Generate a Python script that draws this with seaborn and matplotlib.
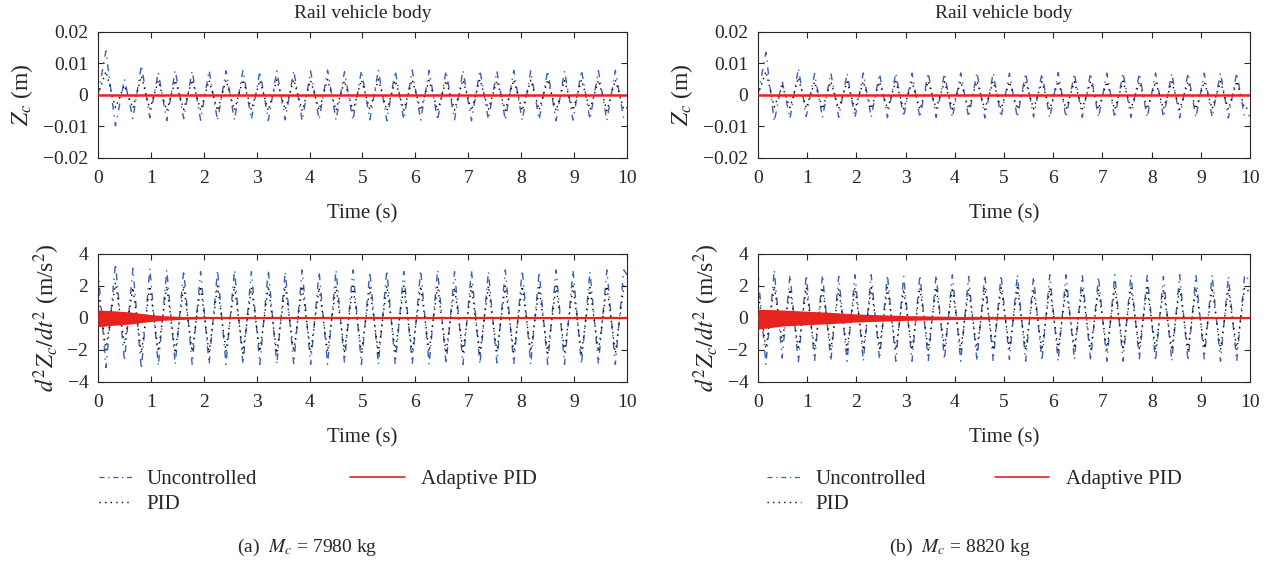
import matplotlib
matplotlib.use("Agg")
import matplotlib.pyplot as plt
from matplotlib.lines import Line2D
import seaborn as sns

sns.set_style("ticks")
plt.rcParams['font.family'] = ['Liberation Serif', 'DejaVu Serif']
plt.rcParams['mathtext.fontset'] = 'stix'

# ---------- data (extrema of each oscillation) ----------
# (a) Mc = 7980 kg
time_a = [0, 0.15, 0.33, 0.50, 0.66, 0.82, 0.98, 1.14,
          1.30, 1.46, 1.62, 1.78, 1.94, 2.10, 2.26, 2.42,
          2.58, 2.74, 2.90, 3.06, 3.22, 3.38, 3.54, 3.70,
          3.86, 4.02, 4.18, 4.34, 4.50, 4.66, 4.82, 4.98,
          5.14, 5.30, 5.46, 5.62, 5.78, 5.94, 6.10, 6.26,
          6.42, 6.58, 6.74, 6.90, 7.06, 7.22, 7.38, 7.54,
          7.70, 7.86, 8.02, 8.18, 8.34, 8.50, 8.66, 8.82,
          8.98, 9.14, 9.30, 9.46, 9.62, 9.78, 9.94, 10.0]
zc_unc_a = [0.0, 0.014, -0.0098, 0.005, -0.0075, 0.0095, -0.0072, 0.0072,
            -0.0082, 0.0078, -0.0075, 0.0076, -0.0080, 0.0078, -0.0082, 0.0077,
            -0.0080, 0.0079, -0.0078, 0.0076, -0.0081, 0.0077, -0.0079, 0.0078,
            -0.0082, 0.0076, -0.0078, 0.0079, -0.0080, 0.0074, -0.0081, 0.0078,
            -0.0079, 0.0080, -0.0082, 0.0077, -0.0078, 0.0079, -0.0080, 0.0078,
            -0.0081, 0.0077, -0.0079, 0.0078, -0.0082, 0.0079, -0.0078, 0.0076,
            -0.0080, 0.0078, -0.0081, 0.0077, -0.0079, 0.0078, -0.0082, 0.0076,
            -0.0080, 0.0079, -0.0078, 0.0077, -0.0081, 0.0078, -0.0076, -0.0068]
zc_pid_a = [0.0, 0.0075, -0.0040, 0.0030, -0.0042, 0.0060, -0.0045, 0.0045,
            -0.0050, 0.0047, -0.0046, 0.0048, -0.0049, 0.0046, -0.0050, 0.0047,
            -0.0048, 0.0049, -0.0047, 0.0046, -0.0050, 0.0048, -0.0047, 0.0049,
            -0.0050, 0.0046, -0.0048, 0.0049, -0.0049, 0.0045, -0.0050, 0.0048,
            -0.0047, 0.0049, -0.0050, 0.0046, -0.0048, 0.0049, -0.0049, 0.0047,
            -0.0050, 0.0046, -0.0048, 0.0048, -0.0050, 0.0049, -0.0047, 0.0046,
            -0.0049, 0.0048, -0.0050, 0.0047, -0.0048, 0.0049, -0.0050, 0.0046,
            -0.0049, 0.0048, -0.0047, 0.0047, -0.0050, 0.0048, -0.0046, -0.0040]
acc_unc_a = [3.1, -3.1, 3.4, -2.7, 3.1, -3.2, 3.1, -3.0,
             3.0, -2.9, 3.0, -2.9, 2.9, -2.9, 3.0, -2.9,
             3.0, -2.9, 2.9, -2.9, 3.0, -2.9, 2.9, -2.9,
             3.0, -2.9, 2.9, -2.9, 3.0, -2.8, 3.0, -2.9,
             2.9, -2.9, 3.0, -2.9, 2.9, -2.9, 3.0, -2.9,
             3.0, -2.9, 2.9, -2.9, 3.0, -2.9, 2.9, -2.8,
             3.0, -2.9, 3.0, -2.9, 2.9, -2.9, 3.0, -2.9,
             3.0, -2.9, 2.9, -2.9, 3.0, -2.9, 3.0, 2.7]
acc_pid_a = [1.8, -2.0, 2.2, -1.6, 1.9, -2.2, 2.0, -2.1,
             2.0, -2.2, 2.0, -2.1, 2.0, -2.2, 2.0, -2.1,
             2.0, -2.2, 1.9, -2.1, 2.0, -2.2, 2.0, -2.1,
             2.0, -2.2, 1.9, -2.1, 2.0, -2.1, 2.0, -2.2,
             1.9, -2.2, 2.0, -2.1, 2.0, -2.2, 2.0, -2.1,
             2.0, -2.2, 1.9, -2.1, 2.0, -2.2, 2.0, -2.1,
             2.0, -2.2, 2.0, -2.1, 1.9, -2.2, 2.0, -2.1,
             2.0, -2.2, 1.9, -2.1, 2.0, -2.2, 2.0, 1.8]
adapt_t_a = [0, 0.3, 0.6, 0.9, 1.2, 1.5, 1.8, 2.0, 10]
adapt_hi_a = [0.5, 0.45, 0.38, 0.25, 0.15, 0.10, 0.06, 0.03, 0.03]
adapt_lo_a = [-0.55, -0.45, -0.38, -0.25, -0.15, -0.10, -0.06, -0.03, -0.03]

# (b) Mc = 8820 kg
time_b = [0, 0.16, 0.33, 0.49, 0.65, 0.82, 0.98, 1.15,
          1.31, 1.48, 1.64, 1.81, 1.97, 2.14, 2.30, 2.47,
          2.63, 2.80, 2.96, 3.13, 3.29, 3.46, 3.62, 3.79,
          3.95, 4.12, 4.28, 4.45, 4.61, 4.78, 4.94, 5.11,
          5.27, 5.44, 5.60, 5.77, 5.93, 6.10, 6.26, 6.43,
          6.59, 6.76, 6.92, 7.09, 7.25, 7.42, 7.58, 7.75,
          7.91, 8.08, 8.24, 8.41, 8.57, 8.74, 8.90, 9.07,
          9.23, 9.40, 9.56, 9.73, 9.89, 10.0]
zc_unc_b = [0.0, 0.0135, -0.0085, 0.0045, -0.0075, 0.0085, -0.0068, 0.0068,
            -0.0072, 0.0070, -0.0071, 0.0069, -0.0073, 0.0070, -0.0071, 0.0068,
            -0.0072, 0.0070, -0.0070, 0.0069, -0.0073, 0.0071, -0.0071, 0.0069,
            -0.0072, 0.0070, -0.0071, 0.0072, -0.0073, 0.0070, -0.0071, 0.0069,
            -0.0072, 0.0070, -0.0070, 0.0069, -0.0073, 0.0071, -0.0072, 0.0069,
            -0.0071, 0.0070, -0.0072, 0.0069, -0.0073, 0.0071, -0.0071, 0.0069,
            -0.0072, 0.0070, -0.0071, 0.0069, -0.0073, 0.0070, -0.0072, 0.0069,
            -0.0071, 0.0070, -0.0073, 0.0071, -0.0070, -0.0065]
zc_pid_b = [0.0, 0.0075, -0.0038, 0.0028, -0.0040, 0.0055, -0.0042, 0.0042,
            -0.0045, 0.0043, -0.0044, 0.0042, -0.0046, 0.0043, -0.0044, 0.0042,
            -0.0045, 0.0043, -0.0044, 0.0042, -0.0046, 0.0044, -0.0044, 0.0042,
            -0.0045, 0.0043, -0.0044, 0.0044, -0.0046, 0.0043, -0.0044, 0.0042,
            -0.0045, 0.0043, -0.0044, 0.0042, -0.0046, 0.0044, -0.0045, 0.0042,
            -0.0044, 0.0043, -0.0045, 0.0042, -0.0046, 0.0044, -0.0044, 0.0042,
            -0.0045, 0.0043, -0.0044, 0.0042, -0.0046, 0.0043, -0.0045, 0.0042,
            -0.0044, 0.0043, -0.0046, 0.0044, -0.0043, -0.0040]
acc_unc_b = [2.8, -2.9, 3.0, -2.5, 2.7, -2.8, 2.7, -2.7,
             2.7, -2.7, 2.6, -2.7, 2.7, -2.7, 2.7, -2.6,
             2.7, -2.7, 2.6, -2.7, 2.7, -2.7, 2.7, -2.6,
             2.7, -2.7, 2.6, -2.7, 2.7, -2.7, 2.7, -2.6,
             2.7, -2.7, 2.6, -2.7, 2.7, -2.7, 2.7, -2.6,
             2.7, -2.7, 2.6, -2.7, 2.7, -2.7, 2.7, -2.6,
             2.7, -2.7, 2.6, -2.7, 2.7, -2.7, 2.7, -2.6,
             2.7, -2.7, 2.6, -2.7, 2.7, 2.3]
acc_pid_b = [1.7, -1.9, 2.0, -1.5, 1.8, -2.0, 1.9, -2.0,
             1.9, -2.0, 1.8, -2.0, 1.9, -2.0, 1.9, -1.9,
             1.9, -2.0, 1.8, -2.0, 1.9, -2.0, 1.9, -1.9,
             1.9, -2.0, 1.8, -2.0, 1.9, -2.0, 1.9, -1.9,
             1.9, -2.0, 1.8, -2.0, 1.9, -2.0, 1.9, -1.9,
             1.9, -2.0, 1.8, -2.0, 1.9, -2.0, 1.9, -1.9,
             1.9, -2.0, 1.8, -2.0, 1.9, -2.0, 1.9, -1.9,
             1.9, -2.0, 1.8, -2.0, 1.9, 1.6]
adapt_t_b = [0, 0.5, 1.0, 1.5, 2.0, 2.5, 3.0, 3.5, 4.0, 5.0, 6.0, 10]
adapt_hi_b = [0.55, 0.50, 0.42, 0.35, 0.25, 0.20, 0.15, 0.12, 0.10, 0.06, 0.04, 0.03]
adapt_lo_b = [-0.70, -0.50, -0.42, -0.35, -0.25, -0.20, -0.15, -0.12, -0.10, -0.06, -0.04, -0.03]

adapt_zc_t = [0, 10]
adapt_zc = [0.0, 0.0]

xticks = list(range(0, 11))
zc_ticks = [-0.02, -0.01, 0, 0.01, 0.02]
zc_labels = ['\u22120.02', '\u22120.01', '0', '0.01', '0.02']
acc_ticks = [-4, -2, 0, 2, 4]
acc_labels = ['\u22124', '\u22122', '0', '2', '4']

BLUE = '#3a5fb3'
RED = '#e8231f'
UNC_LS = (0, (5, 4, 1, 4))
PID_LS = (0, (1, 3))
FS = 14

fig = plt.figure(figsize=(12.71, 5.63), dpi=100)


def style(ax, yticks, ylabels):
    ax.set_xlim(0, 10)
    ax.set_ylim(yticks[0], yticks[-1])
    ax.set_xticks(xticks)
    ax.set_xticklabels([str(x) for x in xticks], fontsize=FS)
    ax.set_yticks(yticks)
    ax.set_yticklabels(ylabels, fontsize=FS)
    ax.tick_params(direction='in', top=True, right=True, length=4, width=0.8)
    ax.tick_params(axis='x', pad=9)
    ax.tick_params(axis='y', pad=7)
    for s in ax.spines.values():
        s.set_visible(True)
        s.set_linewidth(0.8)
    ax.set_xlabel('Time (s)', fontsize=FS + 1, labelpad=12)


panels = [
    (0.0771, 0.4162, time_a, zc_unc_a, zc_pid_a, acc_unc_a, acc_pid_a,
     adapt_t_a, adapt_hi_a, adapt_lo_a),
    (0.5964, 0.3871, time_b, zc_unc_b, zc_pid_b, acc_unc_b, acc_pid_b,
     adapt_t_b, adapt_hi_b, adapt_lo_b),
]

for (left, width, t, zu, zp, au, ap, at, ahi, alo) in panels:
    ax1 = fig.add_axes([left, 0.7194, width, 0.2238])
    sns.lineplot(x=t, y=zu, ax=ax1, color=BLUE, linestyle=UNC_LS, linewidth=1.0,
                 sort=False, estimator=None)
    sns.lineplot(x=t, y=zp, ax=ax1, color='black', linestyle=PID_LS, linewidth=1.0,
                 sort=False, estimator=None)
    sns.lineplot(x=adapt_zc_t, y=adapt_zc, ax=ax1, color=RED, linewidth=1.8,
                 sort=False, estimator=None, zorder=5)
    style(ax1, zc_ticks, zc_labels)
    ax1.set_ylabel('$Z_c$ (m)', fontsize=FS + 3, labelpad=6)
    ax1.set_title('Rail vehicle body', fontsize=FS, pad=10)

    ax2 = fig.add_axes([left, 0.3215, width, 0.2274])
    sns.lineplot(x=t, y=au, ax=ax2, color=BLUE, linestyle=UNC_LS, linewidth=1.0,
                 sort=False, estimator=None)
    sns.lineplot(x=t, y=ap, ax=ax2, color='black', linestyle=PID_LS, linewidth=1.0,
                 sort=False, estimator=None)
    ax2.fill_between(at, alo, ahi, color=RED, linewidth=0, zorder=5)
    sns.lineplot(x=at, y=[0.0] * len(at), ax=ax2, color=RED, linewidth=1.6,
                 sort=False, estimator=None, zorder=5)
    style(ax2, acc_ticks, acc_labels)
    ax2.set_ylabel('$d^2Z_c/dt^2$ (m/s$^2$)', fontsize=FS + 3)

# legends and captions
h_unc = Line2D([], [], color=BLUE, linestyle=(0, (4, 3, 1, 3)), linewidth=0.9)
h_pid = Line2D([], [], color='black', linestyle=(0, (1, 3)), linewidth=1.0)
h_ad = Line2D([], [], color=RED, linewidth=1.2)

for x_unc, x_ad, cap_x, cap in [(0.063, 0.261, 0.242, '(a)  $M_c$ = 7980 kg'),
                                (0.589, 0.768, 0.755, '(b)  $M_c$ = 8820 kg')]:
    fig.legend([h_unc, h_pid], ['Uncontrolled', 'PID'], loc='upper left',
               bbox_to_anchor=(x_unc, 0.199), frameon=False, fontsize=FS + 1,
               handlelength=1.6, labelspacing=0.25, handletextpad=0.7)
    fig.legend([h_ad], ['Adaptive PID'], loc='upper left',
               bbox_to_anchor=(x_ad, 0.199), frameon=False, fontsize=FS + 1,
               handlelength=2.6, handletextpad=0.8)
    fig.text(cap_x, 0.028, cap, ha='center', va='center', fontsize=FS)

fig.savefig('out.png', dpi=100)
